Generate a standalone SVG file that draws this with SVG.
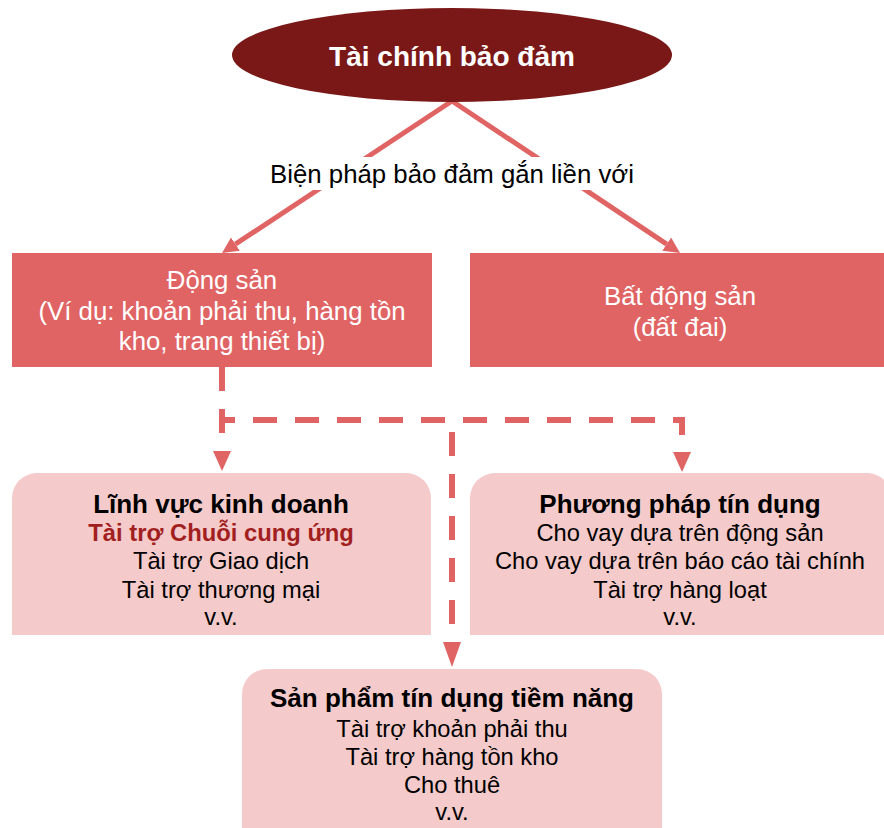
<svg xmlns="http://www.w3.org/2000/svg" width="884" height="828" viewBox="0 0 884 828">
  <style>
    text { font-family: "Liberation Sans", Arial, sans-serif; text-anchor: middle; }
    .title { font-size: 28px; font-weight: bold; fill: #ffffff; }
    .lbl { font-size: 25.8px; fill: #000000; }
    .top { font-size: 25.8px; fill: #ffffff; }
    .head { font-size: 26px; font-weight: bold; fill: #000000; }
    .red { font-size: 23.8px; font-weight: bold; fill: #A21F1F; }
    .item { font-size: 23.7px; fill: #000000; }
    .boxTop { fill: #E06464; }
    .boxBottom { fill: #F4CACA; }
    .solid { fill: none; stroke: #E06464; stroke-width: 5; }
    .dash { fill: none; stroke: #E06464; stroke-width: 6; stroke-dasharray: 24 18; }
  </style>
  <defs>
    <marker id="arrSolid" markerUnits="userSpaceOnUse" viewBox="0 0 16 16" refX="0" refY="8" markerWidth="16" markerHeight="16" orient="auto">
      <path d="M0,0 L16,8 L0,16 z" fill="#E06464"/>
    </marker>
    <marker id="arrDash" markerUnits="userSpaceOnUse" viewBox="0 0 20 18" refX="0" refY="9" markerWidth="20" markerHeight="18" orient="auto">
      <path d="M0,0 L20,9 L0,18 z" fill="#E06464"/>
    </marker>
    <marker id="arrDashLong" markerUnits="userSpaceOnUse" viewBox="0 0 25 18" refX="0" refY="9" markerWidth="25" markerHeight="18" orient="auto">
      <path d="M0,0 L25,9 L0,18 z" fill="#E06464"/>
    </marker>
  </defs>

  <g id="connectors">
    <line class="solid" x1="452" y1="101" x2="235.4" y2="244.2" marker-end="url(#arrSolid)"/>
    <line class="solid" x1="452" y1="101" x2="666.7" y2="244.2" marker-end="url(#arrSolid)"/>
    <path class="dash" d="M222,367 V451" marker-end="url(#arrDash)"/>
    <path class="dash" d="M222,420 H682 V452" stroke-dashoffset="11" marker-end="url(#arrDash)"/>
    <path class="dash" d="M452,420 V642" stroke-dashoffset="30" marker-end="url(#arrDashLong)"/>
    <g id="connector-label">
      <rect x="262" y="157" width="382" height="33" fill="#ffffff"/>
      <text class="lbl" x="452" y="183">Biện pháp bảo đảm gắn liền với</text>
    </g>
  </g>

  <g id="node-root">
    <ellipse cx="452" cy="55" rx="220" ry="47" fill="#7A1818"/>
    <text class="title" x="452" y="66">Tài chính bảo đảm</text>
  </g>

  <g id="node-dong-san">
    <rect class="boxTop" x="12" y="253" width="420" height="114"/>
    <text class="top" x="222" y="289">Động sản</text>
    <text class="top" x="222" y="319.5">(Ví dụ: khoản phải thu, hàng tồn</text>
    <text class="top" x="222" y="350">kho, trang thiết bị)</text>
  </g>

  <g id="node-bat-dong-san">
    <rect class="boxTop" x="470" y="253" width="420" height="114"/>
    <text class="top" x="680" y="305">Bất động sản</text>
    <text class="top" x="680" y="335.5">(đất đai)</text>
  </g>

  <g id="node-linh-vuc">
    <path class="boxBottom" d="M12,635 V498 A25,25 0 0 1 37,473 H406 A25,25 0 0 1 431,498 V635 Z"/>
    <text class="head" x="221" y="512.5">Lĩnh vực kinh doanh</text>
    <text class="red" x="221" y="540.5">Tài trợ Chuỗi cung ứng</text>
    <text class="item" x="221" y="569">Tài trợ Giao dịch</text>
    <text class="item" x="221" y="597.5">Tài trợ thương mại</text>
    <text class="item" x="221" y="625">v.v.</text>
  </g>

  <g id="node-phuong-phap">
    <path class="boxBottom" d="M470,635 V498 A25,25 0 0 1 495,473 H867 A25,25 0 0 1 892,498 V635 Z"/>
    <text class="head" x="680" y="512.5">Phương pháp tín dụng</text>
    <text class="item" x="680" y="540.5">Cho vay dựa trên động sản</text>
    <text class="item" x="680" y="569">Cho vay dựa trên báo cáo tài chính</text>
    <text class="item" x="680" y="597.5">Tài trợ hàng loạt</text>
    <text class="item" x="680" y="625">v.v.</text>
  </g>

  <g id="node-san-pham">
    <path class="boxBottom" d="M242,830 V694 A25,25 0 0 1 267,669 H637 A25,25 0 0 1 662,694 V830 Z"/>
    <text class="head" x="452" y="707">Sản phẩm tín dụng tiềm năng</text>
    <text class="item" x="452" y="736.5">Tài trợ khoản phải thu</text>
    <text class="item" x="452" y="765">Tài trợ hàng tồn kho</text>
    <text class="item" x="452" y="793">Cho thuê</text>
    <text class="item" x="452" y="819.5">v.v.</text>
  </g>
</svg>
